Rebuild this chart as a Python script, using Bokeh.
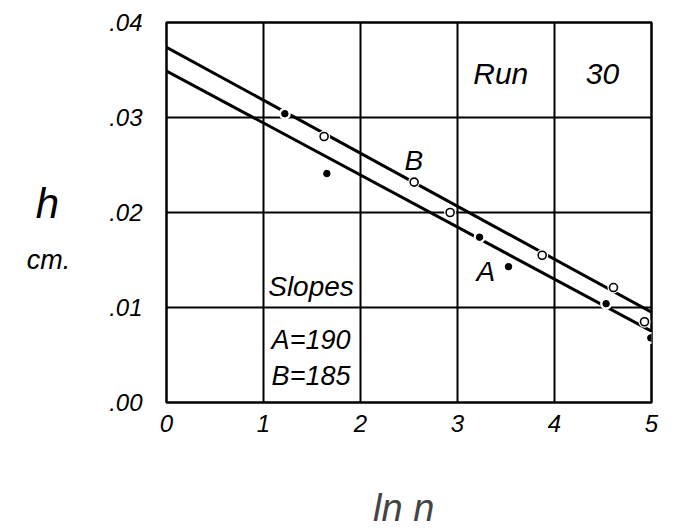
from bokeh.plotting import figure
from bokeh.models import Range1d, Label, FixedTicker
from bokeh.layouts import row
from bokeh.embed import file_html
from bokeh.resources import INLINE

# Run 30: height h (cm) against ln n
lnn_open = [1.625, 2.553, 2.924, 3.873, 4.608, 4.928]
h_open = [0.0280, 0.0232, 0.0200, 0.0155, 0.0121, 0.0085]
lnn_filled = [1.22, 1.653, 3.227, 3.526, 4.532, 4.993]
h_filled = [0.0304, 0.0241, 0.0174, 0.0143, 0.0104, 0.0068]

# fitted straight lines A (lower) and B (upper)
fit_x = [0.0, 5.0]
fit_a = [0.0349, 0.0075]
fit_b = [0.0374, 0.0095]

x_ticks = [0, 1, 2, 3, 4, 5]
y_ticks = [0.0, 0.01, 0.02, 0.03, 0.04]
y_tick_labels = [".00", ".01", ".02", ".03", ".04"]

FONT = "Liberation Sans"
H = 531
SIDE_W = 100
MAIN_W = 578
TOP, BOTTOM = 22, 128

y_range = Range1d(0, 0.04)

# narrow panel on the left carrying the vertical-axis caption "h / cm."
side = figure(width=SIDE_W, height=H, output_backend="svg", toolbar_location=None,
              x_range=Range1d(0, SIDE_W), y_range=y_range,
              x_axis_location=None, y_axis_location=None,
              min_border_left=0, min_border_right=0,
              min_border_top=TOP, min_border_bottom=BOTTOM)
side.outline_line_color = None
side.grid.visible = False
side.background_fill_color = "white"
side.border_fill_color = "white"
for txt, cx, cy, size in [("h", 47, 0.0210, "42px"), ("cm.", 48, 0.0150, "27px")]:
    side.add_layout(Label(x=cx, y=cy, text=txt, text_font=FONT,
                          text_font_style="italic", text_font_size=size,
                          text_color="black", text_align="center",
                          text_baseline="middle"))

p = figure(width=MAIN_W, height=H, output_backend="svg", toolbar_location=None,
           x_range=Range1d(0, 5), y_range=y_range,
           min_border_left=166 - SIDE_W, min_border_right=27,
           min_border_top=TOP, min_border_bottom=BOTTOM)
p.background_fill_color = "white"
p.border_fill_color = "white"
p.outline_line_color = "black"
p.outline_line_width = 2.5

for ax in (p.xaxis[0], p.yaxis[0]):
    ax.axis_line_color = None
    ax.major_tick_line_color = None
    ax.minor_tick_line_color = None
    ax.major_label_text_font = FONT
    ax.major_label_text_font_style = "italic"
    ax.major_label_text_color = "black"
    ax.major_label_text_font_size = "24px"

p.xaxis[0].ticker = FixedTicker(ticks=x_ticks)
p.yaxis[0].ticker = FixedTicker(ticks=y_ticks)
p.yaxis[0].major_label_overrides = {t: s for t, s in zip(y_ticks, y_tick_labels)}
p.xaxis[0].major_label_standoff = 6
p.yaxis[0].major_label_standoff = 18

p.xaxis[0].axis_label = "ln  n"
p.xaxis[0].axis_label_text_font = FONT
p.xaxis[0].axis_label_text_font_style = "italic"
p.xaxis[0].axis_label_text_font_size = "38px"
p.xaxis[0].axis_label_standoff = 52

p.xgrid.ticker = FixedTicker(ticks=x_ticks)
p.ygrid.ticker = FixedTicker(ticks=y_ticks)
for g in (p.xgrid[0], p.ygrid[0]):
    g.grid_line_color = "black"
    g.grid_line_width = 2
    g.grid_line_alpha = 1

p.line(fit_x, fit_a, line_color="black", line_width=3)
p.line(fit_x, fit_b, line_color="black", line_width=3)

# small white gaps around the plotted points
p.scatter(lnn_open + lnn_filled, h_open + h_filled, size=12,
          fill_color="white", line_color=None)
p.scatter(lnn_open, h_open, size=8, fill_color="white",
          line_color="black", line_width=1.6)
p.scatter(lnn_filled, h_filled, size=6.5, fill_color="black", line_color="black")

def note(x, y, text, size):
    p.add_layout(Label(x=x, y=y, text=text, text_font=FONT,
                       text_font_style="italic", text_font_size=size,
                       text_color="black", text_align="center",
                       text_baseline="middle"))

note(3.446, 0.0346, "Run", "30px")
note(4.495, 0.0346, "30", "30px")
note(2.549, 0.0255, "B", "28px")
note(3.292, 0.0138, "A", "28px")
note(1.49, 0.0122, "Slopes", "28px")
note(1.49, 0.0066, "A=190", "27px")
note(1.49, 0.0028, "B=185", "27px")

layout = row(side, p, spacing=0)
open("out.html", "w").write(file_html(layout, INLINE))
